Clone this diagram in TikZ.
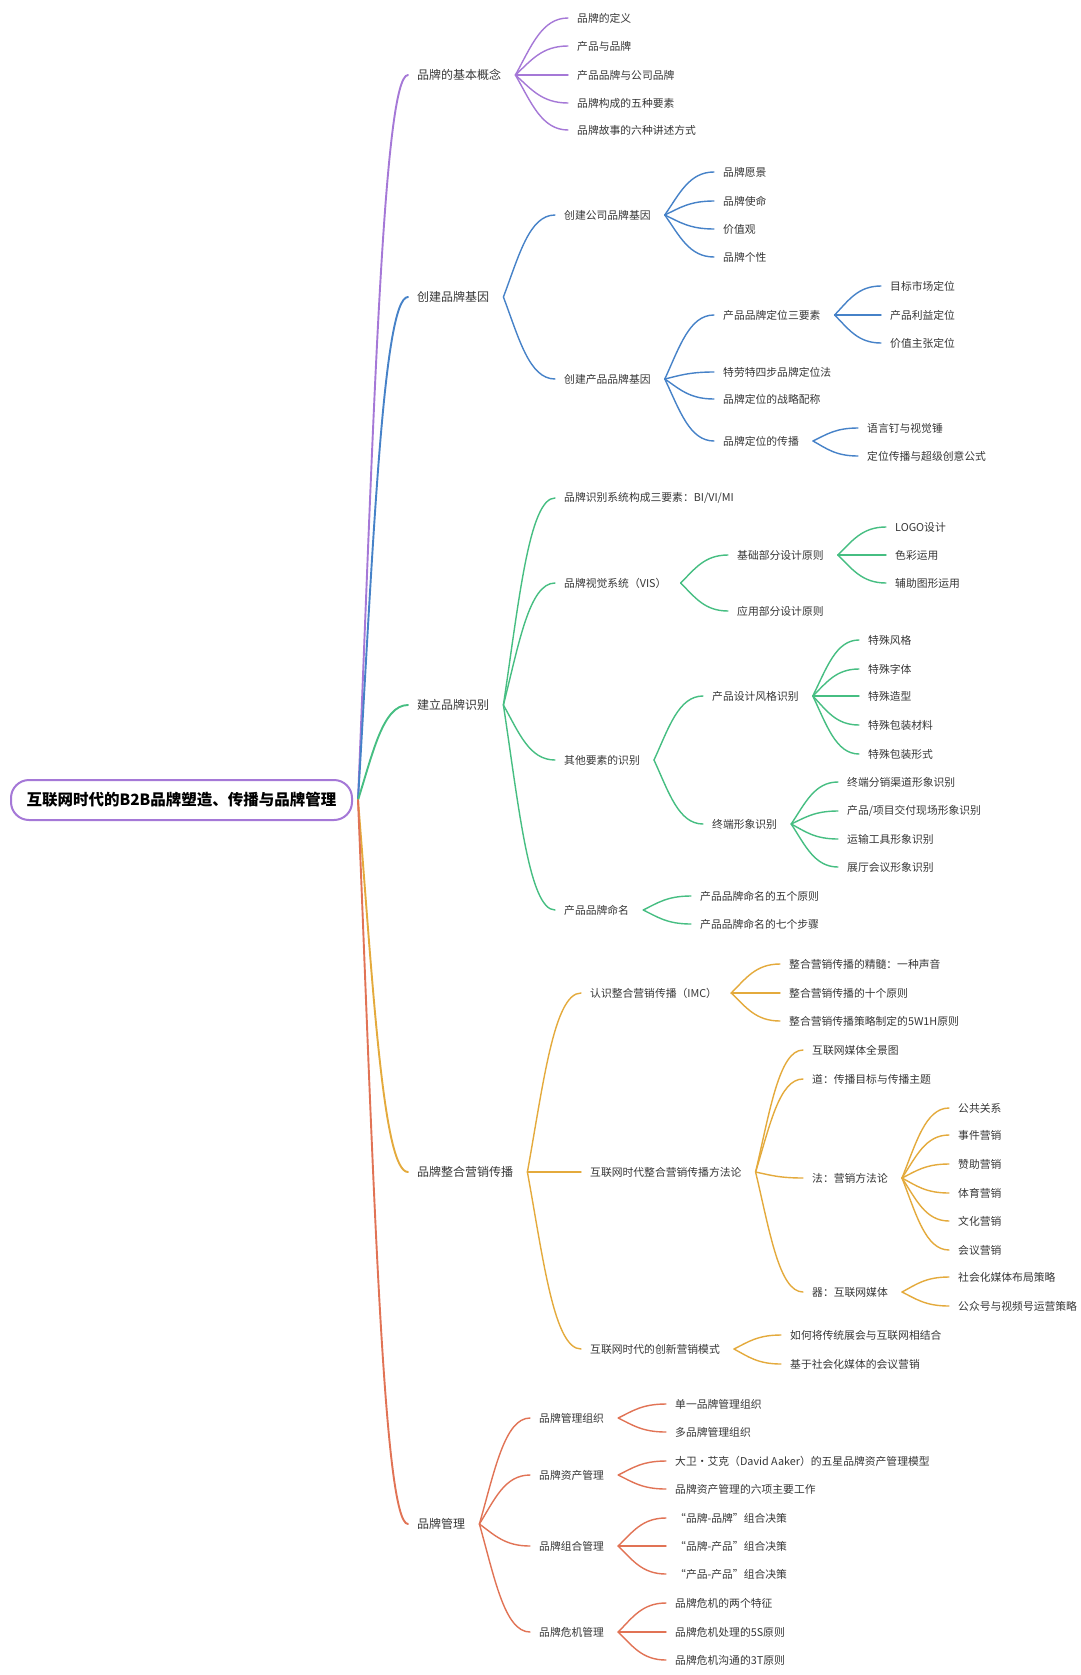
\documentclass[tikz,border=0pt]{standalone}
\usepackage{fontspec}
\newfontfamily\cjk{Noto Sans CJK SC}
\usetikzlibrary{calc}
\definecolor{cP}{RGB}{165,120,215}
\definecolor{cB}{RGB}{70,130,200}
\definecolor{cG}{RGB}{70,190,130}
\definecolor{cO}{RGB}{228,170,60}
\definecolor{cR}{RGB}{225,115,85}
\definecolor{txt}{RGB}{55,55,55}
\tikzset{
 leaf/.style={anchor=west,inner sep=0pt,text=txt,font=\cjk\fontsize{10.8}{13}\selectfont},
 sect/.style={leaf,font=\cjk\fontsize{12}{14}\selectfont},
 rootbox/.style={draw=cP,line width=2pt,rounded corners=18pt,fill=white,minimum width=341pt,minimum height=40pt,inner sep=0pt,font=\cjk\bfseries\fontsize{15.5}{18}\selectfont,text=black},
 br/.style={line width=1.4pt,line cap=round},
 rb/.style={line width=1.9pt,line cap=round},
}
\newcommand{\lnk}[4]{%
 \draw[#1] let \p1=([xshift=#4]#2.east), \p2=([xshift=-9pt]#3.west) in
 (\p1) .. controls ($(\p1)+({0.3*((\x2)-(\x1))},{0.5*((\y2)-(\y1))})$) and ($(\p2)+({-0.5*((\x2)-(\x1))},0pt)$) .. (\p2);}
\begin{document}
\begin{tikzpicture}[x=1pt,y=-1pt]
\fill[white] (0,0) rectangle (1080,1675);
\useasboundingbox (0,0) rectangle (1080,1675);
\node[rootbox] (root) at (181.5,800) {互联网时代的B2B品牌塑造、传播与品牌管理};
% section 1
\node[sect] (s1) at (417,75) {品牌的基本概念};
\node[leaf] (n11) at (577,18) {品牌的定义};
\node[leaf] (n12) at (577,46) {产品与品牌};
\node[leaf] (n13) at (577,75) {产品品牌与公司品牌};
\node[leaf] (n14) at (577,103) {品牌构成的五种要素};
\node[leaf] (n15) at (577,130) {品牌故事的六种讲述方式};
% section 2
\node[sect] (s2) at (417,297) {创建品牌基因};
\node[leaf] (n21) at (564,215) {创建公司品牌基因};
\node[leaf] (n211) at (723,172) {品牌愿景};
\node[leaf] (n212) at (723,201) {品牌使命};
\node[leaf] (n213) at (723,229) {价值观};
\node[leaf] (n214) at (723,257) {品牌个性};
\node[leaf] (n22) at (564,379) {创建产品品牌基因};
\node[leaf] (n221) at (723,315) {产品品牌定位三要素};
\node[leaf] (n2211) at (890,286) {目标市场定位};
\node[leaf] (n2212) at (890,315) {产品利益定位};
\node[leaf] (n2213) at (890,343) {价值主张定位};
\node[leaf] (n222) at (723,372) {特劳特四步品牌定位法};
\node[leaf] (n223) at (723,399) {品牌定位的战略配称};
\node[leaf] (n224) at (723,441) {品牌定位的传播};
\node[leaf] (n2241) at (867,428) {语言钉与视觉锤};
\node[leaf] (n2242) at (867,456) {定位传播与超级创意公式};
% section 3
\node[sect] (s3) at (417,705) {建立品牌识别};
\node[leaf] (n31) at (564,498) {品牌识别系统构成三要素：BI/VI/MI};
\node[leaf] (n32) at (564,583) {品牌视觉系统（VIS）};
\node[leaf] (n321) at (737,555) {基础部分设计原则};
\node[leaf] (n3211) at (895,527) {LOGO设计};
\node[leaf] (n3212) at (895,555) {色彩运用};
\node[leaf] (n3213) at (895,583) {辅助图形运用};
\node[leaf] (n322) at (737,611) {应用部分设计原则};
\node[leaf] (n33) at (564,760) {其他要素的识别};
\node[leaf] (n331) at (712,696) {产品设计风格识别};
\node[leaf] (n3311) at (868,640) {特殊风格};
\node[leaf] (n3312) at (868,669) {特殊字体};
\node[leaf] (n3313) at (868,696) {特殊造型};
\node[leaf] (n3314) at (868,725) {特殊包装材料};
\node[leaf] (n3315) at (868,754) {特殊包装形式};
\node[leaf] (n332) at (712,824) {终端形象识别};
\node[leaf] (n3321) at (847,782) {终端分销渠道形象识别};
\node[leaf] (n3322) at (847,811) {产品/项目交付现场形象识别};
\node[leaf] (n3323) at (847,839) {运输工具形象识别};
\node[leaf] (n3324) at (847,867) {展厅会议形象识别};
\node[leaf] (n34) at (564,910) {产品品牌命名};
\node[leaf] (n341) at (700,896) {产品品牌命名的五个原则};
\node[leaf] (n342) at (700,924) {产品品牌命名的七个步骤};
% section 4
\node[sect] (s4) at (417,1172) {品牌整合营销传播};
\node[leaf] (n41) at (590,993) {认识整合营销传播（IMC）};
\node[leaf] (n411) at (789,964) {整合营销传播的精髓：一种声音};
\node[leaf] (n412) at (789,993) {整合营销传播的十个原则};
\node[leaf] (n413) at (789,1021) {整合营销传播策略制定的5W1H原则};
\node[leaf] (n42) at (590,1172) {互联网时代整合营销传播方法论};
\node[leaf] (n421) at (812,1050) {互联网媒体全景图};
\node[leaf] (n422) at (812,1079) {道：传播目标与传播主题};
\node[leaf] (n423) at (812,1178) {法：营销方法论};
\node[leaf] (n4231) at (958,1108) {公共关系};
\node[leaf] (n4232) at (958,1135) {事件营销};
\node[leaf] (n4233) at (958,1164) {赞助营销};
\node[leaf] (n4234) at (958,1193) {体育营销};
\node[leaf] (n4235) at (958,1221) {文化营销};
\node[leaf] (n4236) at (958,1250) {会议营销};
\node[leaf] (n424) at (812,1292) {器：互联网媒体};
\node[leaf] (n4241) at (958,1277) {社会化媒体布局策略};
\node[leaf] (n4242) at (958,1306) {公众号与视频号运营策略};
\node[leaf] (n43) at (590,1349) {互联网时代的创新营销模式};
\node[leaf] (n431) at (790,1335) {如何将传统展会与互联网相结合};
\node[leaf] (n432) at (790,1364) {基于社会化媒体的会议营销};
% section 5
\node[sect] (s5) at (417,1524) {品牌管理};
\node[leaf] (n51) at (539,1418) {品牌管理组织};
\node[leaf] (n511) at (675,1404) {单一品牌管理组织};
\node[leaf] (n512) at (675,1432) {多品牌管理组织};
\node[leaf] (n52) at (539,1475) {品牌资产管理};
\node[leaf] (n521) at (675,1461) {大卫·艾克（David Aaker）的五星品牌资产管理模型};
\node[leaf] (n522) at (675,1489) {品牌资产管理的六项主要工作};
\node[leaf] (n53) at (539,1546) {品牌组合管理};
\node[leaf] (n531) at (675,1518) {“品牌-品牌”组合决策};
\node[leaf] (n532) at (675,1546) {“品牌-产品”组合决策};
\node[leaf] (n533) at (675,1574) {“产品-产品”组合决策};
\node[leaf] (n54) at (539,1632) {品牌危机管理};
\node[leaf] (n541) at (675,1603) {品牌危机的两个特征};
\node[leaf] (n542) at (675,1632) {品牌危机处理的5S原则};
\node[leaf] (n543) at (675,1660) {品牌危机沟通的3T原则};
% connectors
\lnk{rb,cP}{root}{s1}{5pt}
\lnk{rb,cB}{root}{s2}{5pt}
\lnk{rb,cG}{root}{s3}{5pt}
\lnk{rb,cO}{root}{s4}{5pt}
\lnk{rb,cR}{root}{s5}{5pt}
\foreach \c in {n11,n12,n13,n14,n15} {\lnk{br,cP}{s1}{\c}{14pt}}
\foreach \c in {n21,n22} {\lnk{br,cB}{s2}{\c}{14pt}}
\foreach \c in {n211,n212,n213,n214} {\lnk{br,cB}{n21}{\c}{14pt}}
\foreach \c in {n221,n222,n223,n224} {\lnk{br,cB}{n22}{\c}{14pt}}
\foreach \c in {n2211,n2212,n2213} {\lnk{br,cB}{n221}{\c}{14pt}}
\foreach \c in {n2241,n2242} {\lnk{br,cB}{n224}{\c}{14pt}}
\foreach \c in {n31,n32,n33,n34} {\lnk{br,cG}{s3}{\c}{14pt}}
\foreach \c in {n321,n322} {\lnk{br,cG}{n32}{\c}{14pt}}
\foreach \c in {n3211,n3212,n3213} {\lnk{br,cG}{n321}{\c}{14pt}}
\foreach \c in {n331,n332} {\lnk{br,cG}{n33}{\c}{14pt}}
\foreach \c in {n3311,n3312,n3313,n3314,n3315} {\lnk{br,cG}{n331}{\c}{14pt}}
\foreach \c in {n3321,n3322,n3323,n3324} {\lnk{br,cG}{n332}{\c}{14pt}}
\foreach \c in {n341,n342} {\lnk{br,cG}{n34}{\c}{14pt}}
\foreach \c in {n41,n42,n43} {\lnk{br,cO}{s4}{\c}{14pt}}
\foreach \c in {n411,n412,n413} {\lnk{br,cO}{n41}{\c}{14pt}}
\foreach \c in {n421,n422,n423,n424} {\lnk{br,cO}{n42}{\c}{14pt}}
\foreach \c in {n4231,n4232,n4233,n4234,n4235,n4236} {\lnk{br,cO}{n423}{\c}{14pt}}
\foreach \c in {n4241,n4242} {\lnk{br,cO}{n424}{\c}{14pt}}
\foreach \c in {n431,n432} {\lnk{br,cO}{n43}{\c}{14pt}}
\foreach \c in {n51,n52,n53,n54} {\lnk{br,cR}{s5}{\c}{14pt}}
\foreach \c in {n511,n512} {\lnk{br,cR}{n51}{\c}{14pt}}
\foreach \c in {n521,n522} {\lnk{br,cR}{n52}{\c}{14pt}}
\foreach \c in {n531,n532,n533} {\lnk{br,cR}{n53}{\c}{14pt}}
\foreach \c in {n541,n542,n543} {\lnk{br,cR}{n54}{\c}{14pt}}
\end{tikzpicture}
\end{document}
